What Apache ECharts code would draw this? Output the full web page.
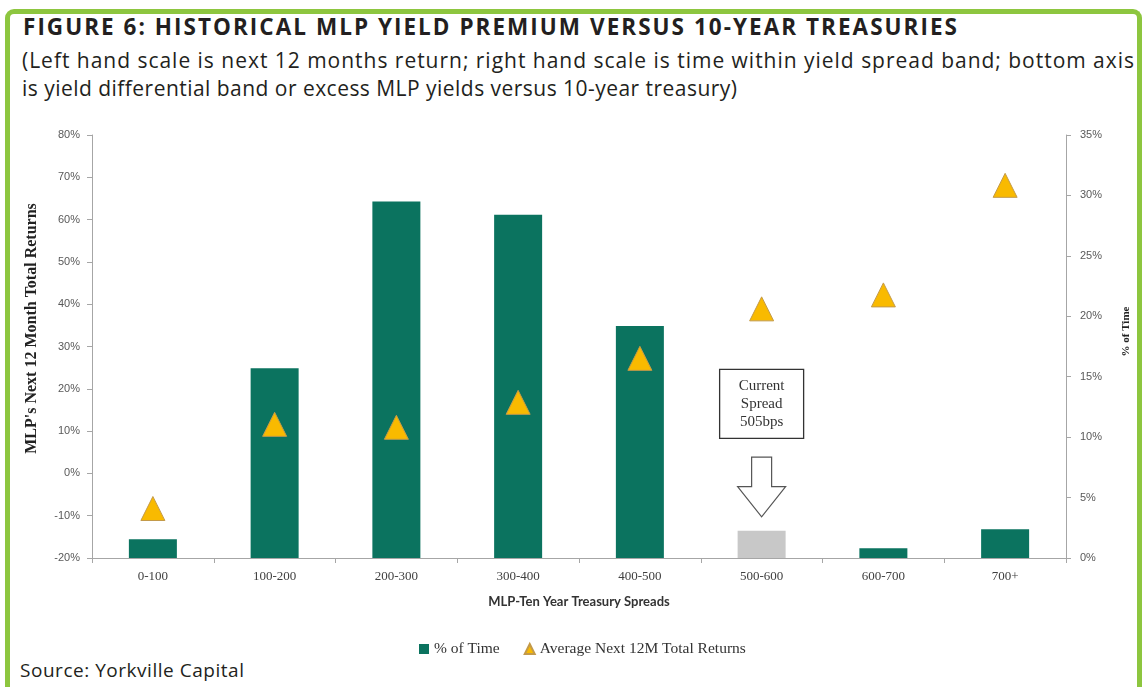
<!DOCTYPE html>
<html>
<head>
<meta charset="utf-8">
<script src="https://cdn.jsdelivr.net/npm/echarts@6/dist/echarts.min.js"></script>
<style>
  html, body { margin:0; padding:0; width:1142px; height:687px; overflow:hidden; background:#fff; }
  #frame { position:absolute; left:5px; top:9px; width:1137px; height:720px; box-sizing:border-box;
           border:5px solid #8DC63F; border-bottom:none; border-top-left-radius:9px; border-top-right-radius:9px; }
  .txt { position:absolute; white-space:nowrap; font-family:"Open Sans", sans-serif; color:#231F20; }
  #title { left:23px; top:16px; font-size:22.5px; line-height:22px; font-weight:700; }
  .sub { left:22px; font-size:21px; line-height:29px; }
  #sub1 { top:46px; }
  #sub2 { top:74px; }
  #source { left:20px; top:661px; font-size:19px; line-height:19px; }
  #chart { position:absolute; left:0; top:0; width:1142px; height:687px; }
</style>
</head>
<body>
<div id="frame"></div>
<div class="txt" id="title" data-w="934">FIGURE 6: HISTORICAL MLP YIELD PREMIUM VERSUS 10-YEAR TREASURIES</div>
<div class="txt sub" id="sub1" data-w="1112">(Left hand scale is next 12 months return; right hand scale is time within yield spread band; bottom axis</div>
<div class="txt sub" id="sub2" data-w="715">is yield differential band or excess MLP yields versus 10-year treasury)</div>
<div class="txt" id="source" data-w="224">Source: Yorkville Capital</div>
<div id="chart"></div>
<script>
// ---- data ----
const categories = ['0-100', '100-200', '200-300', '300-400', '400-500', '500-600', '600-700', '700+'];
const pctOfTime = [1.55, 15.7, 29.5, 28.4, 19.2, 2.26, 0.8, 2.37];          // right axis, %
const avgNext12MReturns = [-8.3, 11.6, 10.9, 16.8, 27.2, 38.9, 42.2, 68.1]; // left axis, %
const leftTicks = { min: -20, max: 80, step: 10 };
const rightTicks = { min: 0, max: 35, step: 5 };
const currentSpreadCategory = '500-600';
const currentSpreadText = 'Current\nSpread\n505bps';
const seriesNames = ['% of Time', 'Average Next 12M Total Returns'];

// fit header texts to measured widths
document.querySelectorAll('.txt').forEach(el => {
  const target = +el.dataset.w;
  const w = el.getBoundingClientRect().width;
  const n = el.textContent.length - 1;
  if (n > 0) el.style.letterSpacing = ((target - w) / n) + 'px';
});

const green = '#0B735F';
const gray = '#C8C8C8';
const serif = '"Liberation Serif", "Times New Roman", serif';
const axisColor = '#A6A6A6';

const chart = echarts.init(document.getElementById('chart'), null, { renderer: 'canvas' });
const option = {
  animation: false,
  backgroundColor: 'transparent',
  grid: { left: 92, right: 76, top: 135, bottom: 129, outerBoundsMode: 'none' },
  legend: {
    left: 419, top: 641, padding: 0, itemGap: 24, itemWidth: 10, itemHeight: 10,
    textStyle: { fontFamily: serif, fontSize: 15.5, color: '#333' },
    data: [{ name: seriesNames[0], icon: 'rect' }, { name: seriesNames[1], icon: 'triangle' }]
  },
  xAxis: {
    type: 'category', data: categories,
    name: 'MLP-Ten Year Treasury Spreads', nameLocation: 'middle', nameGap: 37,
    nameTextStyle: { fontFamily: 'Lato, sans-serif', fontWeight: 'bold', fontSize: 13, color: '#333' },
    axisLine: { onZero: false, lineStyle: { color: axisColor } },
    axisTick: { show: true, length: 5, lineStyle: { color: axisColor } },
    axisLabel: { margin: 12, fontFamily: serif, fontSize: 13, color: '#404040' }
  },
  yAxis: [
    {
      type: 'value', min: leftTicks.min, max: leftTicks.max, interval: leftTicks.step, position: 'left',
      name: "MLP's Next 12 Month Total Returns", nameLocation: 'middle', nameRotate: 90, nameGap: 52,
      nameTextStyle: { fontFamily: serif, fontWeight: 'bold', fontSize: 16, color: '#222', padding: [0, 0, 0, 36] },
      axisLine: { show: true, lineStyle: { color: axisColor } },
      axisTick: { show: true, length: 5, lineStyle: { color: axisColor } },
      splitLine: { show: false },
      axisLabel: { margin: 12, formatter: '{value}%', fontFamily: '"Liberation Sans", sans-serif', fontSize: 11, color: '#595959' }
    },
    {
      type: 'value', min: rightTicks.min, max: rightTicks.max, interval: rightTicks.step, position: 'right',
      name: '% of Time', nameLocation: 'middle', nameRotate: 90, nameGap: 55,
      nameTextStyle: { fontFamily: serif, fontWeight: 'bold', fontSize: 11, color: '#222', padding: [0, 0, 0, 30] },
      axisLine: { show: true, lineStyle: { color: axisColor } },
      axisTick: { show: true, length: 5, lineStyle: { color: axisColor } },
      splitLine: { show: false },
      axisLabel: { margin: 14, formatter: '{value}%', fontFamily: '"Liberation Sans", sans-serif', fontSize: 11, color: '#595959' }
    }
  ],
  series: [
    {
      name: seriesNames[0], type: 'bar', yAxisIndex: 1, barWidth: 48,
      itemStyle: { color: green },
      data: pctOfTime.map((v, i) => categories[i] === currentSpreadCategory ? { value: v, itemStyle: { color: gray } } : v),
      z: 2
    },
    {
      name: seriesNames[1], type: 'scatter', yAxisIndex: 0, symbol: 'triangle', symbolSize: [24, 24],
      itemStyle: { color: '#F9BA00', borderColor: '#C39A4A', borderWidth: 1, opacity: 1 },
      data: avgNext12MReturns,
      z: 3
    }
  ]
};
chart.setOption(option);

// annotation placed through the axes' scales
const cx = chart.convertToPixel({ xAxisIndex: 0 }, currentSpreadCategory);
const py = v => chart.convertToPixel({ yAxisIndex: 1 }, v);
const boxTop = py(15.6), boxBottom = py(9.9);
const arrowTop = py(8.35), arrowHead = py(5.9), arrowTip = py(3.4);
chart.setOption({
  graphic: [
    {
      type: 'rect', shape: { x: cx - 42, y: boxTop, width: 84, height: boxBottom - boxTop },
      style: { fill: '#fff', stroke: '#333', lineWidth: 1.3 }, z: 10
    },
    {
      type: 'text', x: cx, y: (boxTop + boxBottom) / 2, z: 11,
      style: { text: currentSpreadText, align: 'center', verticalAlign: 'middle',
               font: '15px ' + serif, lineHeight: 18, fill: '#333' }
    },
    {
      type: 'polygon', z: 10,
      shape: { points: [[cx - 10, arrowTop], [cx + 10, arrowTop], [cx + 10, arrowHead], [cx + 24, arrowHead],
                        [cx, arrowTip], [cx - 24, arrowHead], [cx - 10, arrowHead]] },
      style: { fill: '#fff', stroke: '#555', lineWidth: 1.2 }
    }
  ]
});
</script>
</body>
</html>
